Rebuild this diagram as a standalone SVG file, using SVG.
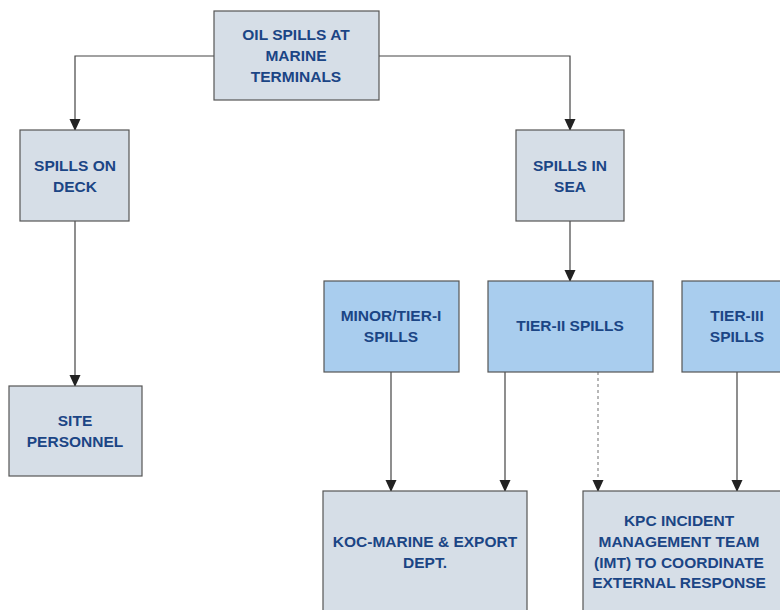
<svg xmlns="http://www.w3.org/2000/svg" width="780" height="610" viewBox="0 0 780 610">
<defs>
<marker id="arr" markerWidth="12" markerHeight="12" refX="11" refY="6" orient="auto" markerUnits="userSpaceOnUse">
<path d="M0,0.5 L12,6 L0,11.5 Z" fill="#222"/>
</marker>
<style>
.g{fill:#d6dee7;stroke:#555;stroke-width:1.2}
.b{fill:#a9cdee;stroke:#555;stroke-width:1.2}
.t{font-family:"Liberation Sans",Arial,sans-serif;font-weight:bold;font-size:15.5px;fill:#1b4585;text-anchor:middle}
.c{fill:none;stroke:#444;stroke-width:1.2}
.d{fill:none;stroke:#888;stroke-width:1.2;stroke-dasharray:3,3}
</style>
</defs>
<rect width="780" height="610" fill="#fff"/>
<g id="connectors">
<path class="c" d="M214,56 H75 V130" marker-end="url(#arr)"/>
<path class="c" d="M379,56 H570 V130" marker-end="url(#arr)"/>
<path class="c" d="M570,221 V281" marker-end="url(#arr)"/>
<path class="c" d="M75,221 V386" marker-end="url(#arr)"/>
<path class="c" d="M391,372 V491" marker-end="url(#arr)"/>
<path class="c" d="M505,372 V491" marker-end="url(#arr)"/>
<path class="d" d="M598,372 V482"/>
<path d="M598,482 V491" stroke="#444" stroke-width="1.2" marker-end="url(#arr)"/>
<path class="c" d="M737,372 V491" marker-end="url(#arr)"/>
</g>
<g id="n-top"><rect class="g" x="214" y="11" width="165" height="89"/>
<text class="t" x="296" y="40">OIL SPILLS AT</text><text class="t" x="296" y="61">MARINE</text><text class="t" x="296" y="82">TERMINALS</text></g>
<g id="n-deck"><rect class="g" x="20" y="130" width="109" height="91"/>
<text class="t" x="75" y="171">SPILLS ON</text><text class="t" x="75" y="192">DECK</text></g>
<g id="n-sea"><rect class="g" x="516" y="130" width="108" height="91"/>
<text class="t" x="570" y="171">SPILLS IN</text><text class="t" x="570" y="192">SEA</text></g>
<g id="n-tier1"><rect class="b" x="324" y="281" width="135" height="91"/>
<text class="t" x="391" y="321">MINOR/TIER-I</text><text class="t" x="391" y="342">SPILLS</text></g>
<g id="n-tier2"><rect class="b" x="488" y="281" width="165" height="91"/>
<text class="t" x="570" y="331">TIER-II SPILLS</text></g>
<g id="n-tier3"><rect class="b" x="682" y="281" width="110" height="91"/>
<text class="t" x="737" y="321">TIER-III</text><text class="t" x="737" y="342">SPILLS</text></g>
<g id="n-site"><rect class="g" x="9" y="386" width="133" height="90"/>
<text class="t" x="75" y="426">SITE</text><text class="t" x="75" y="447">PERSONNEL</text></g>
<g id="n-koc"><rect class="g" x="323" y="491" width="204" height="130"/>
<text class="t" x="425" y="547">KOC-MARINE &amp; EXPORT</text><text class="t" x="425" y="568">DEPT.</text></g>
<g id="n-kpc"><rect class="g" x="583" y="491" width="210" height="130"/>
<text class="t" x="679" y="526">KPC INCIDENT</text><text class="t" x="679" y="547">MANAGEMENT TEAM</text><text class="t" x="679" y="568">(IMT) TO COORDINATE</text><text class="t" x="679" y="588">EXTERNAL RESPONSE</text></g>
</svg>
